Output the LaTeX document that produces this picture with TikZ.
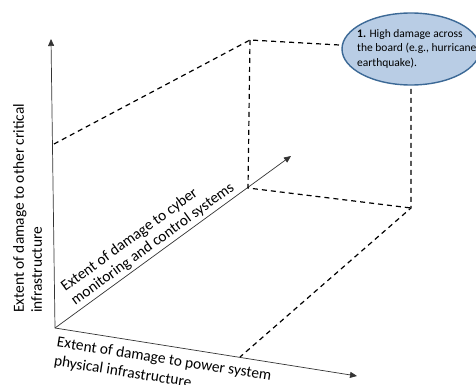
\documentclass[tikz,border=0pt]{standalone}
\usepackage{fontspec}
\setmainfont{Carlito}
\usepackage{tikz}
\usetikzlibrary{arrows.meta,shapes.geometric}

\definecolor{bubblefill}{RGB}{185,205,229}
\definecolor{bubbleline}{RGB}{60,105,150}

\begin{document}
\begin{tikzpicture}[x=1pt, y=-1pt, >={Triangle[length=7pt,width=6pt]}, axis/.style={->, line width=.7pt, black!80}, edge/.style={dashed, line width=1.2pt, dash pattern=on 5pt off 4pt}, axislabel/.style={align=left, inner sep=0pt, font=\fontsize{15.4}{18}\selectfont}, bubble/.style={draw=bubbleline, line width=1.4pt, fill=bubblefill, ellipse, minimum width=138pt, minimum height=72pt}]
\useasboundingbox (0,0) rectangle (476,385);
% axes
\coordinate (origin) at (55,328);
\coordinate (ytip) at (51,39);
\coordinate (xtip) at (357,376);
\coordinate (ztip) at (291,156);
\draw[axis] (origin) -- (ytip);
\draw[axis] (origin) -- (xtip);
\draw[axis] (origin) -- (ztip);
% box corners
\coordinate (vtop) at (54,144);
\coordinate (back) at (250,40);
\coordinate (zmid) at (248,188);
\coordinate (far) at (411,49);
\coordinate (low) at (411,208);
\coordinate (xmid) at (240,357);
\draw[edge] (vtop) -- (back) -- (far) -- (low) -- (xmid);
\draw[edge] (back) -- (zmid) -- (low);
% event bubble
\node[bubble] (event) at (far) {};
\node[anchor=north west, align=left, inner sep=0pt, font=\fontsize{11.5}{14.5}\selectfont] (eventtext) at (357,29) {\textbf{1.} High damage across\\the board (e.g., hurricane,\\earthquake).};
% axis labels
\node[axislabel, rotate=90, anchor=north west] (ylabel) at (13,313) {Extent of damage to other critical\\infrastructure};
\node[axislabel, rotate=-9, anchor=north west, font=\fontsize{15.4}{19}\selectfont] (xlabel) at (58,336) {Extent of damage to power system\\physical infrastructure};
\node[axislabel, rotate=36, anchor=south west, font=\fontsize{15.4}{17}\selectfont] (zlabel) at (77,308) {Extent of damage to cyber\\monitoring and control systems};
\end{tikzpicture}
\end{document}
